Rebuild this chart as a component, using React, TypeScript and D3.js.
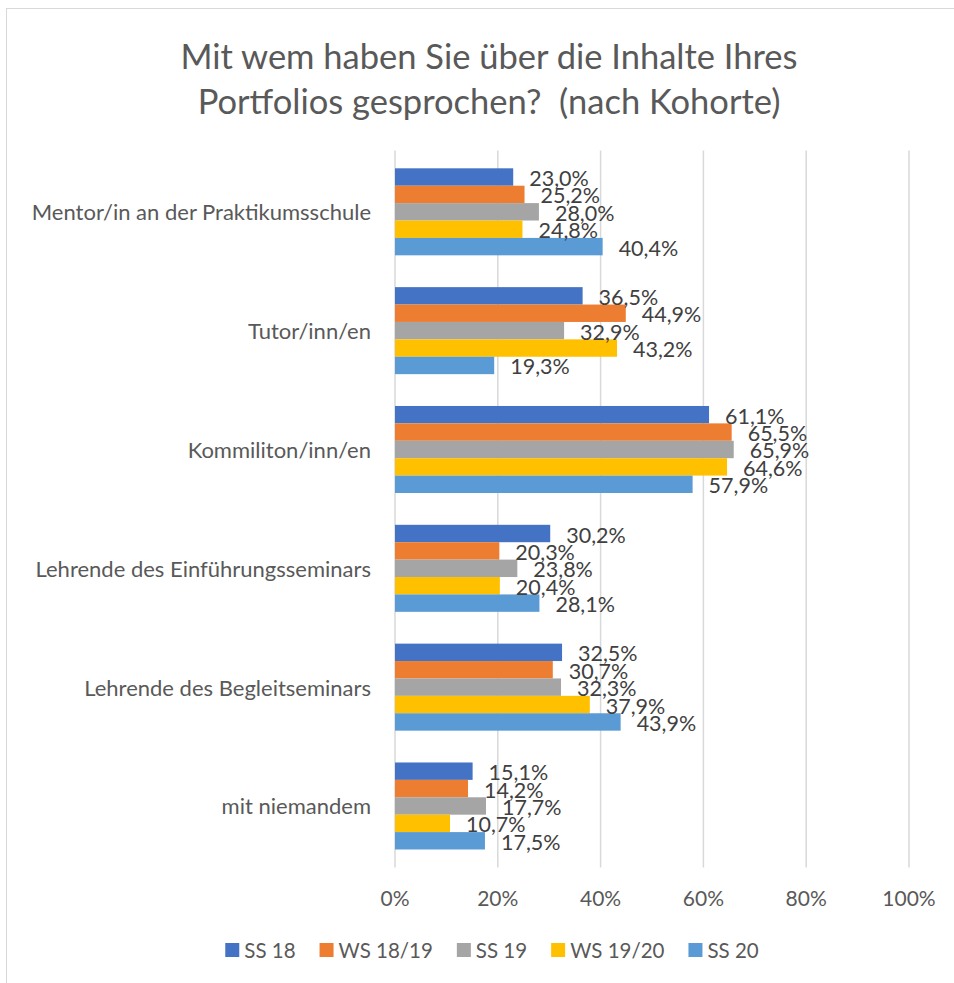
import { useEffect, useRef } from 'react';
import * as d3 from 'd3';

const categories = [
  'Mentor/in an der Praktikumsschule',
  'Tutor/inn/en',
  'Kommiliton/inn/en',
  'Lehrende des Einführungsseminars',
  'Lehrende des Begleitseminars',
  'mit niemandem',
];
const seriesNames = ['SS 18', 'WS 18/19', 'SS 19', 'WS 19/20', 'SS 20'];
const seriesColors = ['#4472C4', '#ED7D31', '#A5A5A5', '#FFC000', '#5B9BD5'];
const ss18 = [23.0, 36.5, 61.1, 30.2, 32.5, 15.1];
const ws1819 = [25.2, 44.9, 65.5, 20.3, 30.7, 14.2];
const ss19 = [28.0, 32.9, 65.9, 23.8, 32.3, 17.7];
const ws1920 = [24.8, 43.2, 64.6, 20.4, 37.9, 10.7];
const ss20 = [40.4, 19.3, 57.9, 28.1, 43.9, 17.5];
const xTicks = [0, 20, 40, 60, 80, 100];
const titleLines = ['Mit wem haben Sie über die Inhalte Ihres', 'Portfolios gesprochen?  (nach Kohorte)'];

const seriesValues = [ss18, ws1819, ss19, ws1920, ss20];

export default function App() {
  const svgRef = useRef<SVGSVGElement>(null);

  useEffect(() => {
    if (!svgRef.current) return;
    const width = 954;
    const height = 983;
    const margin = { top: 152.4, right: 45, bottom: 117.6, left: 395 };
    const font = "Lato, 'Open Sans', sans-serif";
    const textColor = '#595959';

    const svg = d3.select(svgRef.current);
    svg.selectAll('*').remove();

    svg.append('rect')
      .attr('x', 0).attr('y', 0).attr('width', width).attr('height', height)
      .attr('fill', '#fff');
    svg.append('rect')
      .attr('x', 6.5).attr('y', 8.5).attr('width', 1000).attr('height', 1000)
      .attr('fill', 'none').attr('stroke', '#d9d9d9');

    const x = d3.scaleLinear().domain([0, 100]).range([margin.left, width - margin.right]);
    const y = d3.scaleBand().domain(categories).range([margin.top, height - margin.bottom]);
    const yInner = d3.scaleBand().domain(seriesNames).range([0, y.bandwidth()]).paddingOuter(0.914);

    // title
    svg.append('g').selectAll('text').data(titleLines).join('text')
      .attr('x', 489).attr('y', (_, i) => 55 + i * 45)
      .attr('text-anchor', 'middle').attr('dominant-baseline', 'central')
      .style('font-family', font).style('font-size', '34.5px').style('fill', textColor)
      .style('white-space', 'pre')
      .text(d => d);

    // grid
    svg.append('g').selectAll('line').data(xTicks).join('line')
      .attr('x1', d => x(d)).attr('x2', d => x(d))
      .attr('y1', margin.top - 2).attr('y2', height - margin.bottom + 2)
      .attr('stroke', '#d9d9d9').attr('stroke-width', 1.5);

    // x tick labels
    svg.append('g').selectAll('text').data(xTicks).join('text')
      .attr('x', d => x(d)).attr('y', 897)
      .attr('text-anchor', 'middle').attr('dominant-baseline', 'central')
      .style('font-family', font).style('font-size', '21px').style('fill', textColor)
      .text(d => `${d}%`);

    // category labels
    svg.append('g').selectAll('text').data(categories).join('text')
      .attr('x', 371).attr('y', d => y(d)! + y.bandwidth() / 2)
      .attr('text-anchor', 'end').attr('dominant-baseline', 'central')
      .style('font-family', font).style('font-size', '22px').style('fill', textColor)
      .text(d => d);

    const fmt = (v: number) => `${v.toFixed(1).replace('.', ',')}%`;

    // bars
    const groups = svg.append('g').selectAll('g').data(seriesNames).join('g')
      .attr('fill', (_, i) => seriesColors[i]);
    groups.selectAll('rect')
      .data((s, si) => seriesValues[si].map((v, ci) => ({ s, v, c: categories[ci] })))
      .join('rect')
      .attr('x', x(0))
      .attr('y', d => y(d.c)! + yInner(d.s)!)
      .attr('width', d => x(d.v) - x(0))
      .attr('height', yInner.bandwidth());

    // data labels
    const labels = svg.append('g');
    seriesNames.forEach((s, si) => {
      labels.append('g').selectAll('text')
        .data(seriesValues[si].map((v, ci) => ({ v, c: categories[ci] })))
        .join('text')
        .attr('x', d => x(d.v) + 16)
        .attr('y', d => y(d.c)! + yInner(s)! + yInner.bandwidth() / 2 + 1)
        .attr('dominant-baseline', 'central')
        .style('font-family', font).style('font-size', '21.5px').style('fill', '#404040')
        .text(d => fmt(d.v));
    });

    // legend
    const legend = svg.append('g');
    const items = legend.selectAll('g').data(seriesNames).join('g');
    items.append('rect')
      .attr('width', 14).attr('height', 14).attr('y', -7)
      .attr('fill', (_, i) => seriesColors[i]);
    items.append('text')
      .attr('x', 19).attr('dominant-baseline', 'central')
      .style('font-family', font).style('font-size', '20.5px').style('fill', textColor)
      .text(d => d);
    const widths: number[] = [];
    items.each(function () {
      const t = d3.select(this).select<SVGTextElement>('text').node()!;
      widths.push(19 + t.getComputedTextLength());
    });
    const gap = 24;
    const total = d3.sum(widths) + gap * (widths.length - 1);
    let cx = 492 - total / 2;
    items.attr('transform', (_, i) => {
      const tx = cx;
      cx += widths[i] + gap;
      return `translate(${tx},950)`;
    });
  }, []);

  return (
    <svg ref={svgRef} width={954} height={983}
      style={{ position: 'absolute', left: 0, top: 0, display: 'block' }} />
  );
}
